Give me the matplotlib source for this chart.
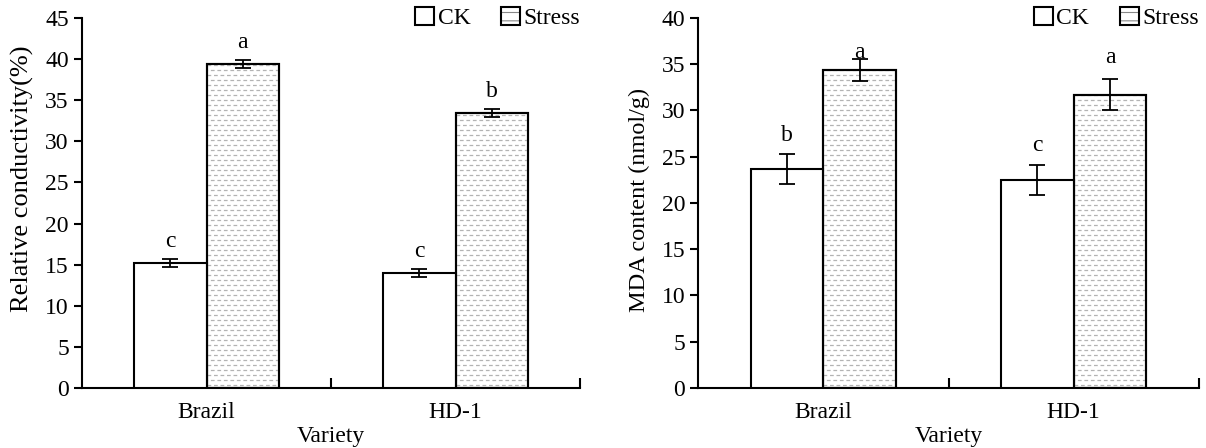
import numpy as np
import matplotlib
matplotlib.use('Agg')
import matplotlib.pyplot as plt
from matplotlib.patches import Patch

plt.rcParams['font.family'] = ['Liberation Serif', 'DejaVu Serif']
plt.rcParams['font.size'] = 17
plt.rcParams['hatch.linewidth'] = 0.8

varieties = ['Brazil', 'HD-1']

# relative conductivity (%)
cond_ck = [15.2, 14.0]
cond_ck_err = [0.5, 0.5]
cond_stress = [39.4, 33.4]
cond_stress_err = [0.5, 0.5]
cond_letters_ck = ['c', 'c']
cond_letters_stress = ['a', 'b']

# MDA content (nmol/g)
mda_ck = [23.7, 22.5]
mda_ck_err = [1.6, 1.65]
mda_stress = [34.4, 31.7]
mda_stress_err = [1.2, 1.7]
mda_letters_ck = ['b', 'c']
mda_letters_stress = ['a', 'a']

BAR_W = 0.29
DASH_GRAY = '#b3b3b3'


def fill_dashes(ax, bar, step):
    # light dashed rows inside the stress bars
    x0 = bar.get_x()
    x1 = x0 + bar.get_width()
    top = bar.get_height()
    for i, y in enumerate(np.arange(step * 0.6, top, step)):
        ln, = ax.plot([x0, x1], [y, y], color=DASH_GRAY, lw=0.9,
                      ls=((i % 2) * 2.5, (3.0, 2.2)), zorder=2)
        ln.set_clip_path(bar)


def put_letters(ax, xs, vals, errs, letters, offsets):
    for xi, v, e, t, off in zip(xs, vals, errs, letters, offsets):
        ax.annotate(t, (xi, v + e), xytext=(0, off), textcoords='offset points',
                    ha='center', va='bottom')


def draw_panel(ax, ck, ck_err, st, st_err, let_ck, let_st, ymax,
               off_ck=(5, 5), off_st=(5, 5)):
    x = np.arange(len(varieties))
    xc = x - BAR_W / 2
    xs = x + BAR_W / 2
    ax.bar(xc, ck, BAR_W, facecolor='white', edgecolor='black',
           linewidth=1.5, zorder=3)
    bars_st = ax.bar(xs, st, BAR_W, facecolor='white', edgecolor='black',
                     linewidth=1.5, zorder=1)
    step = ymax * 5.0 / 370
    for b in bars_st:
        fill_dashes(ax, b, step)
    # redraw stress outlines on top of the dashes
    ax.bar(xs, st, BAR_W, facecolor='none', edgecolor='black',
           linewidth=1.5, zorder=3)

    ax.errorbar(xc, ck, yerr=ck_err, fmt='none', ecolor='black',
                elinewidth=1.3, capsize=6, capthick=1.3, zorder=4)
    ax.errorbar(xs, st, yerr=st_err, fmt='none', ecolor='black',
                elinewidth=1.3, capsize=6, capthick=1.3, zorder=4)

    put_letters(ax, xc, ck, ck_err, let_ck, off_ck)
    put_letters(ax, xs, st, st_err, let_st, off_st)

    ax.set_xlim(-0.5, 1.5)
    ax.set_ylim(0, ymax)
    ax.set_yticks(np.arange(0, ymax + 1, 5))
    ax.set_xticks([0.5, 1.5])
    ax.set_xticklabels([])
    ax.set_xticks(x, minor=True)
    ax.set_xticklabels(varieties, minor=True)
    ax.tick_params(axis='x', which='major', direction='in', length=7, width=1.5)
    ax.tick_params(axis='x', which='minor', length=0, pad=10)
    ax.tick_params(axis='y', direction='out', length=6, width=1.5)
    for s in ['top', 'right']:
        ax.spines[s].set_visible(False)
    for s in ['left', 'bottom']:
        ax.spines[s].set_linewidth(1.5)
    ax.set_xlabel('Variety', labelpad=2)

    h_ck = Patch(facecolor='white', edgecolor='black', linewidth=1.5)
    h_st = (Patch(facecolor='white', edgecolor='#888888', hatch='--', linewidth=0),
            Patch(facecolor='none', edgecolor='black', linewidth=1.5))
    ax.legend([h_ck, h_st], ['CK', 'Stress'], ncol=2, loc='center right',
              bbox_to_anchor=(1.0, 1.0), frameon=False, handlelength=0.8,
              handleheight=0.8, handletextpad=0.15, columnspacing=1.3,
              borderaxespad=0, borderpad=0)


fig = plt.figure(figsize=(12.06, 4.48), dpi=100)
ax1 = fig.add_axes([0.068, 0.134, 0.413, 0.826])
ax2 = fig.add_axes([0.579, 0.134, 0.415, 0.826])

draw_panel(ax1, cond_ck, cond_ck_err, cond_stress, cond_stress_err,
           cond_letters_ck, cond_letters_stress, 45)
ax1.set_ylabel('Relative conductivity(%)', fontsize=19)
ax1.yaxis.set_label_coords(-0.096, 0.565)

draw_panel(ax2, mda_ck, mda_ck_err, mda_stress, mda_stress_err,
           mda_letters_ck, mda_letters_stress, 40,
           off_ck=(6, 6), off_st=(-3, 8))
ax2.set_ylabel('MDA content (nmol/g)', fontsize=17.5)
ax2.yaxis.set_label_coords(-0.096, 0.508)

fig.savefig('out.png', dpi=100)
